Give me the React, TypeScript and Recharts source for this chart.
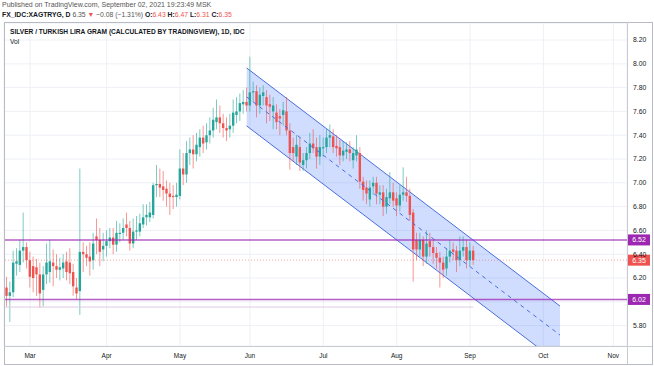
import {
  ComposedChart,
  Bar,
  Area,
  Line,
  XAxis,
  YAxis,
  CartesianGrid,
  ReferenceLine,
} from 'recharts';

// bar index of the first candle (0 = Mar 1, 2021), one bar per trading day
const firstBar = -7;

const opens = [
  6.12, 6.05, 6.08, 6.32, 6.31, 6.43, 6.46, 6.35, 6.30, 6.29, 6.23, 6.10, 6.23, 6.25, 6.33, 6.30, 6.27, 6.28, 6.34, 6.33,
  6.25, 6.12, 6.09, 6.42, 6.40, 6.38, 6.35, 6.55, 6.52, 6.44, 6.47, 6.51, 6.54, 6.48, 6.57, 6.58, 6.65, 6.62, 6.49, 6.59,
  6.59, 6.65, 6.71, 6.71, 6.73, 6.98, 6.99, 6.97, 6.95, 6.91, 6.89, 6.88, 6.89, 7.12, 7.07, 7.25, 7.28, 7.24, 7.30, 7.38,
  7.34, 7.40, 7.44, 7.51, 7.55, 7.50, 7.46, 7.45, 7.48, 7.57, 7.60, 7.66, 7.68, 7.65, 7.76, 7.77, 7.65, 7.73, 7.72, 7.66,
  7.60, 7.59, 7.56, 7.57, 7.60, 7.44, 7.30, 7.22, 7.30, 7.15, 7.19, 7.25, 7.33, 7.30, 7.22, 7.29, 7.30, 7.38, 7.39, 7.31,
  7.30, 7.23, 7.26, 7.28, 7.19, 7.23, 7.25, 7.01, 6.96, 6.86, 6.97, 7.00, 6.90, 6.92, 6.80, 6.87, 6.92, 6.87, 6.81, 6.90,
  6.92, 6.89, 6.75, 6.52, 6.44, 6.52, 6.38, 6.51, 6.46, 6.41, 6.37, 6.33, 6.28, 6.38, 6.44, 6.43, 6.35, 6.43, 6.46, 6.35,
  6.43,
];
const highs = [
  6.21, 6.17, 6.43, 6.45, 6.52, 6.75, 6.50, 6.42, 6.38, 6.36, 6.33, 6.30, 6.49, 6.52, 6.44, 6.40, 6.37, 6.40, 6.42, 6.45,
  6.32, 6.20, 7.12, 6.50, 6.47, 6.50, 6.58, 6.70, 6.62, 6.58, 6.60, 6.62, 6.62, 6.68, 6.66, 6.70, 6.75, 6.68, 6.70, 6.72,
  6.74, 6.82, 6.82, 6.84, 7.00, 7.15, 7.12, 7.10, 7.02, 7.00, 6.98, 7.00, 7.28, 7.25, 7.35, 7.38, 7.40, 7.42, 7.45, 7.48,
  7.50, 7.55, 7.63, 7.70, 7.65, 7.58, 7.55, 7.58, 7.70, 7.72, 7.75, 7.78, 7.80, 8.06, 7.85, 7.82, 7.80, 7.82, 7.78, 7.74,
  7.72, 7.66, 7.62, 7.68, 7.72, 7.50, 7.38, 7.40, 7.38, 7.25, 7.30, 7.42, 7.45, 7.38, 7.40, 7.38, 7.45, 7.49, 7.45, 7.40,
  7.36, 7.35, 7.34, 7.35, 7.30, 7.40, 7.30, 7.05, 7.02, 7.02, 7.05, 7.05, 6.98, 6.98, 6.95, 7.09, 7.00, 6.92, 6.98, 7.13,
  7.05, 6.95, 6.78, 6.58, 6.58, 6.55, 6.60, 6.58, 6.52, 6.46, 6.42, 6.38, 6.45, 6.52, 6.50, 6.47, 6.55, 6.55, 6.52, 6.50,
  6.47,
];
const lows = [
  5.96, 5.83, 6.04, 6.22, 6.25, 6.33, 6.28, 6.12, 6.08, 6.05, 5.95, 5.96, 6.15, 6.16, 6.13, 6.20, 6.18, 6.20, 6.18, 6.15,
  6.05, 6.02, 5.89, 6.25, 6.30, 6.22, 6.27, 6.40, 6.30, 6.34, 6.38, 6.45, 6.40, 6.42, 6.50, 6.52, 6.55, 6.43, 6.45, 6.52,
  6.55, 6.62, 6.64, 6.67, 6.70, 6.88, 6.88, 6.85, 6.80, 6.73, 6.78, 6.80, 6.86, 6.98, 7.00, 7.15, 7.12, 7.18, 7.22, 7.25,
  7.28, 7.33, 7.38, 7.45, 7.42, 7.38, 7.35, 7.38, 7.42, 7.50, 7.52, 7.58, 7.60, 7.60, 7.68, 7.55, 7.58, 7.65, 7.50, 7.52,
  7.45, 7.45, 7.40, 7.48, 7.40, 7.11, 7.18, 7.15, 7.10, 7.10, 7.12, 7.20, 7.25, 7.12, 7.15, 7.22, 7.25, 7.30, 7.25, 7.22,
  7.15, 7.18, 7.20, 7.18, 7.12, 7.18, 6.95, 6.85, 6.82, 6.80, 6.90, 6.82, 6.82, 6.72, 6.74, 6.82, 6.80, 6.72, 6.76, 6.85,
  6.84, 6.68, 6.17, 6.35, 6.38, 6.30, 6.32, 6.38, 6.32, 6.28, 6.12, 6.20, 6.22, 6.33, 6.35, 6.25, 6.30, 6.38, 6.28, 6.30,
  6.31,
];
const closes = [
  6.05, 6.08, 6.33, 6.34, 6.43, 6.46, 6.35, 6.21, 6.20, 6.23, 6.07, 6.23, 6.33, 6.34, 6.30, 6.27, 6.29, 6.33, 6.25, 6.24,
  6.13, 6.07, 6.42, 6.40, 6.37, 6.34, 6.49, 6.52, 6.42, 6.47, 6.51, 6.54, 6.48, 6.58, 6.58, 6.62, 6.62, 6.49, 6.59, 6.60,
  6.66, 6.71, 6.73, 6.75, 6.98, 6.99, 6.96, 6.94, 6.91, 6.88, 6.88, 6.90, 7.12, 7.07, 7.25, 7.28, 7.24, 7.32, 7.38, 7.33,
  7.40, 7.44, 7.53, 7.55, 7.50, 7.46, 7.44, 7.48, 7.59, 7.60, 7.67, 7.68, 7.65, 7.76, 7.77, 7.65, 7.74, 7.76, 7.65, 7.64,
  7.65, 7.51, 7.54, 7.61, 7.44, 7.25, 7.25, 7.32, 7.17, 7.19, 7.25, 7.33, 7.29, 7.22, 7.30, 7.30, 7.38, 7.40, 7.30, 7.29,
  7.23, 7.27, 7.28, 7.25, 7.25, 7.28, 7.01, 6.94, 6.91, 6.96, 7.00, 6.91, 6.92, 6.80, 6.88, 6.92, 6.85, 6.81, 6.90, 6.92,
  6.89, 6.73, 6.44, 6.44, 6.52, 6.38, 6.49, 6.46, 6.41, 6.37, 6.33, 6.27, 6.38, 6.43, 6.42, 6.35, 6.43, 6.46, 6.35, 6.43,
  6.35,
];

const monthTicks = [0, 23, 45, 66, 88, 110, 132, 154, 175];
const monthLabels = ['Mar', 'Apr', 'May', 'Jun', 'Jul', 'Aug', 'Sep', 'Oct', 'Nov'];
const priceTicks = [5.8, 6.0, 6.2, 6.4, 6.6, 6.8, 7.0, 7.2, 7.4, 7.6, 7.8, 8.0, 8.2];
// price labels covered by a badge in the reference
const hiddenPriceLabels = [6.0];

// parallel channel (start bar, end bar) and its borders
const channelBars = [65, 159];
const channelUpper = [7.965, 5.964];
const channelLower = [7.478, 5.477];

const levelLines = [6.52, 6.02];
const lastClose = 6.35;
const oldLevel = 5.956;
const oldLevelEnd = 133;

const GREEN = '#26a69a';
const RED = '#ef5350';
const PURPLE = '#9c27b0';
const FONT = '"Liberation Sans", Arial, sans-serif';

const data: any[] = closes.map((c, k) => ({
  i: k + firstBar,
  open: opens[k],
  high: highs[k],
  low: lows[k],
  close: c,
  range: [lows[k], highs[k]],
}));

channelBars.forEach((b, n) => {
  const band = [channelLower[n], channelUpper[n]];
  const mid = (channelLower[n] + channelUpper[n]) / 2;
  const row = data.find((d) => d.i === b);
  if (row) {
    row.band = band;
    row.mid = mid;
  } else {
    data.push({ i: b, band, mid });
  }
});

const Candle = (props: any) => {
  const { x, y, width, height, payload } = props;
  if (!payload || payload.open == null) return null;
  const { open, close, high, low } = payload;
  const color = close >= open ? GREEN : RED;
  const top = Math.min(y, y + height);
  const h = Math.abs(height);
  const k = h / (high - low);
  const yOf = (v: number) => top + (high - v) * k;
  const cx = x + width / 2;
  const bTop = yOf(Math.max(open, close));
  const bH = Math.max(1, yOf(Math.min(open, close)) - bTop);
  return (
    <g>
      <line x1={cx} x2={cx} y1={top} y2={top + h} stroke={color} strokeOpacity={0.6} strokeWidth={1} />
      <rect x={cx - 1.2} y={bTop} width={2.4} height={bH} fill={color} />
    </g>
  );
};

const Badge = (props: any) => {
  const { viewBox, value, color } = props;
  if (!viewBox) return null;
  const x = viewBox.x + viewBox.width + 1;
  const y = viewBox.y;
  return (
    <g>
      <rect x={x} y={y - 5.5} width={22} height={11} fill={color} />
      <text x={x + 11} y={y + 2.5} textAnchor="middle" fontSize={7} fill="#fff" fontFamily={FONT}>
        {value}
      </text>
    </g>
  );
};

export default function App() {
  return (
    <div
      style={{
        position: 'absolute',
        left: 0,
        top: 0,
        width: 654,
        height: 366,
        background: '#fff',
        fontFamily: FONT,
        overflow: 'hidden',
      }}
    >
      <div style={{ position: 'absolute', left: 2, top: 1, fontSize: 7, color: '#555' }}>
        Published on TradingView.com, September 02, 2021 19:23:49 MSK
      </div>
      <div style={{ position: 'absolute', left: 2, top: 11, fontSize: 6.8, color: '#131722', whiteSpace: 'nowrap' }}>
        <b>FX_IDC:XAGTRYG, D</b> <span style={{ color: '#555' }}>6.35</span>{' '}
        <span style={{ color: RED }}>▼</span> <span style={{ color: '#555' }}>−0.08 (−1.31%)</span>{' '}
        <b>O:</b><span style={{ color: RED }}>6.43</span> <b>H:</b><span style={{ color: RED }}>6.47</span>{' '}
        <b>L:</b><span style={{ color: RED }}>6.31</span> <b>C:</b><span style={{ color: RED }}>6.35</span>
      </div>

      <ComposedChart
        width={654}
        height={366}
        data={data}
        margin={{ top: 23, right: 0, bottom: 0, left: 4 }}
        style={{ position: 'absolute', left: 0, top: 0 }}
      >
        <CartesianGrid stroke="#eef0f5" strokeWidth={1} />
        <XAxis
          dataKey="i"
          type="number"
          domain={[-7.8, 179.1]}
          allowDataOverflow
          ticks={monthTicks}
          tickFormatter={(v: number) => monthLabels[monthTicks.indexOf(v)] ?? ''}
          axisLine={false}
          tickLine={false}
          tickSize={0}
          tickMargin={7}
          height={20}
          tick={{ fontSize: 6.5, fill: '#131722', fontFamily: FONT }}
        />
        <YAxis
          orientation="right"
          type="number"
          domain={[5.6286, 8.343]}
          allowDataOverflow
          ticks={priceTicks}
          tickFormatter={(v: number) => (hiddenPriceLabels.includes(v) ? '' : v.toFixed(2))}
          axisLine={false}
          tickLine={false}
          tickSize={0}
          tickMargin={6}
          width={27}
          tick={{ fontSize: 6.8, fill: '#131722', fontFamily: FONT }}
        />
        <Area
          type="linear"
          dataKey="band"
          connectNulls
          stroke="#4a6ee0"
          strokeWidth={1}
          fill="#2962ff"
          fillOpacity={0.22}
          dot={false}
          activeDot={false}
          isAnimationActive={false}
        />
        <Line
          type="linear"
          dataKey="mid"
          connectNulls
          stroke="#4a6ee0"
          strokeWidth={1}
          strokeDasharray="4 4"
          dot={false}
          activeDot={false}
          isAnimationActive={false}
        />
        <ReferenceLine
          segment={[
            { x: -7.8, y: oldLevel },
            { x: oldLevelEnd, y: oldLevel },
          ]}
          stroke="#dccbe0"
          strokeWidth={1}
        />
        <ReferenceLine
          y={lastClose}
          stroke={RED}
          strokeOpacity={0.5}
          strokeDasharray="1 2"
          label={<Badge value={lastClose.toFixed(2)} color={RED} />}
        />
        {levelLines.map((v) => (
          <ReferenceLine
            key={v}
            y={v}
            stroke={PURPLE}
            strokeOpacity={0.75}
            strokeWidth={1.4}
            label={<Badge value={v.toFixed(2)} color={PURPLE} />}
          />
        ))}
        <Bar dataKey="range" barSize={3} shape={(p: any) => <Candle {...p} />} isAnimationActive={false} />
      </ComposedChart>

      <div style={{ position: 'absolute', left: 10, top: 28, fontSize: 6.6, fontWeight: 'bold', color: '#131722', fontFamily: '"Liberation Sans Narrow", "Arial Narrow", ' + FONT }}>
        SILVER / TURKISH LIRA GRAM (CALCULATED BY TRADINGVIEW), 1D, IDC
      </div>
      <div style={{ position: 'absolute', left: 10, top: 38, fontSize: 6.6, color: '#131722' }}>Vol</div>

      <div style={{ position: 'absolute', left: 4, top: 22, width: 647, height: 341, border: '1px solid #b8bbc3', pointerEvents: 'none' }} />
      <div style={{ position: 'absolute', left: 627, top: 22, width: 1, height: 342, background: '#c8cbd2' }} />
      <div style={{ position: 'absolute', left: 4, top: 346, width: 648, height: 1, background: '#c8cbd2' }} />
    </div>
  );
}
